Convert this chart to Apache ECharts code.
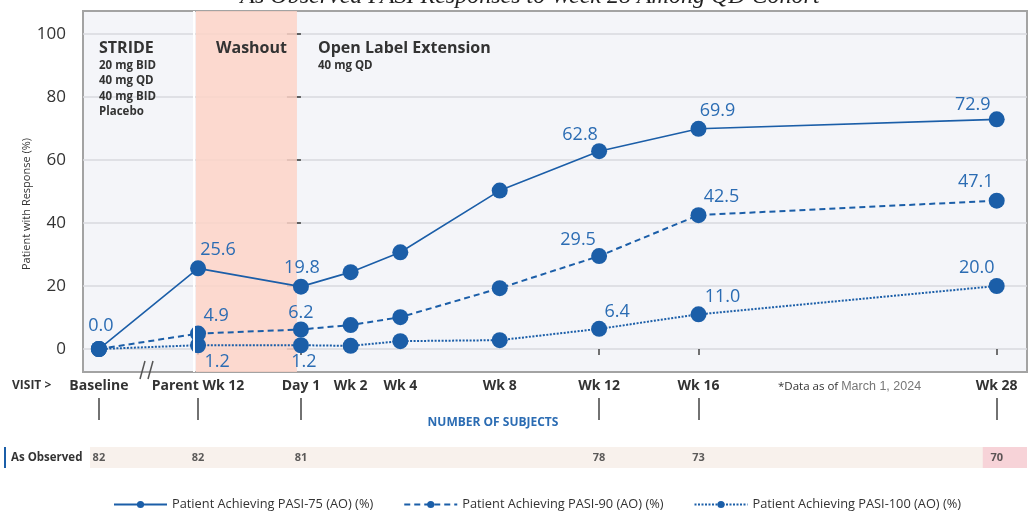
<!DOCTYPE html>
<html><head><meta charset="utf-8">
<script src="https://cdn.jsdelivr.net/npm/echarts@6/dist/echarts.min.js"></script>
<style>html,body{margin:0;padding:0;background:#fff}#c{width:1029px;height:512px}</style>
</head><body><div id="c"></div>
<script>
// ---- data ----
const visits = ['Baseline', 'Parent Wk 12', 'Day 1', 'Wk 2', 'Wk 4', 'Wk 8', 'Wk 12', 'Wk 16', 'Wk 28'];
const visitWeeks = [-8.13, -4.14, 0, 2, 4, 8, 12, 16, 28];
const pasi75 = [0.0, 25.6, 19.8, 24.4, 30.7, 50.3, 62.8, 69.9, 72.9];
const pasi90 = [0.0, 4.9, 6.2, 7.6, 10.1, 19.3, 29.5, 42.5, 47.1];
const pasi100 = [0.0, 1.2, 1.2, 1.0, 2.5, 2.8, 6.4, 11.0, 20.0];
const subjects = [82, 82, 81, null, null, null, 78, 73, 70];
const yTicks = [0, 20, 40, 60, 80, 100];
const seriesNames = ['Patient Achieving PASI-75 (AO) (%)', 'Patient Achieving PASI-90 (AO) (%)', 'Patient Achieving PASI-100 (AO) (%)'];

// ---- style config (label placement) ----
const off75 = {0: [2, -23], 1: [20, -18], 2: [1, -19], 6: [-19, -16], 7: [19, -18], 8: [-24, -14]};
const off90 = {1: [18, -18], 2: [0, -17], 6: [-21, -16], 7: [23, -18], 8: [-21, -19]};
const off100 = {1: [19, 17], 2: [3, 17], 6: [18, -17], 7: [24, -17], 8: [-20, -18]};

const BLUE = '#1b5ea8';
const LBLUE = '#2b6cb3';
const XMIN = -8.77, XMAX = 29.22;

function mk(arr, off) {
  return visitWeeks.map((w, i) => ({
    value: [w, arr[i]],
    label: off[i] ? {show: true, position: 'inside', offset: off[i]} : {show: false}
  }));
}
const subjWeeks = visitWeeks.filter((w, i) => subjects[i] != null);
function visitName(v) {
  let best = 0;
  visitWeeks.forEach((w, i) => { if (Math.abs(w - v) < Math.abs(visitWeeks[best] - v)) best = i; });
  return visits[best];
}
const lbl = {
  fontSize: 18, color: LBLUE, fontFamily: 'Open Sans',
  formatter: p => p.value[1].toFixed(1)
};

const chart = echarts.init(document.getElementById('c'), null, {renderer: 'canvas'});
chart.setOption({
  animation: false,
  textStyle: {fontFamily: 'Open Sans'},
  grid: [
    {left: 83, right: 2, top: 11, bottom: 140, show: true, backgroundColor: '#f4f5f9', borderColor: '#a3a3a3', borderWidth: 2},
    {left: 83, right: 2, top: 398, bottom: 92},
    {left: 83, right: 2, top: 447, bottom: 44}
  ],
  xAxis: [
    {gridIndex: 0, type: 'value', min: XMIN, max: XMAX,
     axisLine: {show: false}, splitLine: {show: false},
     axisTick: {show: true, customValues: subjWeeks, length: 6, lineStyle: {color: '#444', width: 1.5}},
     axisLabel: {customValues: visitWeeks, formatter: v => visitName(v), fontSize: 14, fontWeight: 'bold', color: '#333', margin: 7}},
    {gridIndex: 1, type: 'value', min: XMIN, max: XMAX,
     axisLine: {show: false}, splitLine: {show: false}, axisLabel: {show: false},
     axisTick: {show: true, inside: true, customValues: subjWeeks, length: 22, lineStyle: {color: '#444', width: 1.5}}},
    {gridIndex: 2, type: 'value', min: XMIN, max: XMAX, show: false}
  ],
  yAxis: [
    {gridIndex: 0, type: 'value', min: -7.3, max: 107.3,
     axisLine: {show: false},
     axisTick: {show: true, customValues: yTicks, length: 14, lineStyle: {color: '#333', width: 1.5}},
     axisLabel: {customValues: yTicks, margin: 17, fontSize: 17, color: '#333'},
     splitLine: {show: true, lineStyle: {color: '#d9d9de', width: 1.5}}},
    {gridIndex: 1, type: 'value', min: 0, max: 1, show: false},
    {gridIndex: 2, type: 'value', min: 0, max: 1, show: false}
  ],
  legend: {
    left: 108, top: 493, itemWidth: 53, itemHeight: 9, itemGap: 30,
    textStyle: {fontSize: 12.8, color: '#333'},
    data: seriesNames
  },
  series: [
    {name: seriesNames[2], type: 'line', xAxisIndex: 0, yAxisIndex: 0, data: mk(pasi100, off100),
     symbol: 'circle', symbolSize: 16, itemStyle: {color: BLUE},
     lineStyle: {color: BLUE, width: 2, type: [2, 1.5]}, label: lbl, z: 3},
    {name: seriesNames[1], type: 'line', xAxisIndex: 0, yAxisIndex: 0, data: mk(pasi90, off90),
     symbol: 'circle', symbolSize: 16, itemStyle: {color: BLUE},
     lineStyle: {color: BLUE, width: 2, type: [6, 4]}, label: lbl, z: 4},
    {name: seriesNames[0], type: 'line', xAxisIndex: 0, yAxisIndex: 0, data: mk(pasi75, off75),
     symbol: 'circle', symbolSize: 16, itemStyle: {color: BLUE},
     lineStyle: {color: BLUE, width: 1.6}, label: lbl, z: 5,
     markArea: {silent: true, label: {show: false},
       itemStyle: {color: 'rgba(253,212,200,0.85)'},
       data: [[{xAxis: -4.23}, {xAxis: -0.16}]]},
     markLine: {silent: true, symbol: 'none', label: {show: false},
       lineStyle: {color: '#ffffff', width: 2, type: 'solid'},
       data: [{xAxis: -4.3}]}},
    {type: 'scatter', xAxisIndex: 2, yAxisIndex: 2, z: 5,
     data: visitWeeks.map((w, i) => subjects[i] == null ? null : [w, 0.5, subjects[i]]).filter(d => d),
     symbolSize: 2, itemStyle: {color: 'rgba(0,0,0,0)'},
     label: {show: true, position: 'inside', formatter: p => String(p.value[2]), fontSize: 11, fontWeight: 'bold', color: '#333'},
     markArea: {silent: true, label: {show: false},
       data: [
         [{xAxis: -8.49, itemStyle: {color: '#f8f1ec'}}, {xAxis: XMAX}],
         [{xAxis: 27.44, itemStyle: {color: '#f7d3d8'}}, {xAxis: XMAX}]
       ]}}
  ],
  graphic: [
    {type: 'text', z: 100, x: 530, y: 9, style: {text: 'As Observed PASI Responses to Week 28 Among QD Cohort', font: 'italic 24px "Liberation Serif"', fill: '#222', align: 'center', verticalAlign: 'bottom'}},
    {type: 'text', z: 100, x: 99, y: 48, style: {text: 'STRIDE', font: 'bold 16px "Open Sans"', fill: '#333', verticalAlign: 'middle'}},
    {type: 'text', z: 100, x: 99, y: 66, style: {text: '20 mg BID', font: 'bold 11.5px "Open Sans"', fill: '#333', verticalAlign: 'middle'}},
    {type: 'text', z: 100, x: 99, y: 81, style: {text: '40 mg QD', font: 'bold 11.5px "Open Sans"', fill: '#333', verticalAlign: 'middle'}},
    {type: 'text', z: 100, x: 99, y: 97, style: {text: '40 mg BID', font: 'bold 11.5px "Open Sans"', fill: '#333', verticalAlign: 'middle'}},
    {type: 'text', z: 100, x: 99, y: 112, style: {text: 'Placebo', font: 'bold 11.5px "Open Sans"', fill: '#333', verticalAlign: 'middle'}},
    {type: 'text', z: 100, x: 216, y: 48, style: {text: 'Washout', font: 'bold 16px "Open Sans"', fill: '#333', verticalAlign: 'middle'}},
    {type: 'text', z: 100, x: 318, y: 48, style: {text: 'Open Label Extension', font: 'bold 16px "Open Sans"', fill: '#333', verticalAlign: 'middle'}},
    {type: 'text', z: 100, x: 318, y: 66, style: {text: '40 mg QD', font: 'bold 11.5px "Open Sans"', fill: '#333', verticalAlign: 'middle'}},
    {type: 'text', z: 100, x: 27, y: 204, rotation: Math.PI / 2, style: {text: 'Patient with Response (%)', font: '11px "Open Sans"', fill: '#333', align: 'center', verticalAlign: 'middle'}},
    {type: 'text', z: 100, x: 12, y: 386, style: {text: 'VISIT >', font: 'bold 12px "Open Sans"', fill: '#333', verticalAlign: 'middle'}},
    {type: 'line', z: 100, shape: {x1: 140, y1: 379, x2: 145, y2: 361}, style: {stroke: '#555', lineWidth: 1.5}},
    {type: 'line', z: 100, shape: {x1: 148, y1: 379, x2: 153, y2: 361}, style: {stroke: '#555', lineWidth: 1.5}},
    {type: 'text', z: 100, x: 493, y: 423, style: {text: 'NUMBER OF SUBJECTS', font: 'bold 12px "Open Sans"', fill: LBLUE, align: 'center', verticalAlign: 'middle'}},
    {type: 'text', z: 100, x: 778, y: 387, style: {
      text: '{a|*Data as of }{b|March 1, 2024}', verticalAlign: 'middle',
      rich: {a: {fontSize: 11.5, fontFamily: 'Open Sans', fill: '#333', color: '#333'}, b: {fontSize: 12.5, fontFamily: 'Liberation Sans', fill: '#777', color: '#777'}}}},
    {type: 'rect', z: 100, shape: {x: 4, y: 447, width: 2, height: 21}, style: {fill: BLUE}},
    {type: 'text', z: 100, x: 11, y: 457.5, style: {text: 'As Observed', font: 'bold 11.5px "Open Sans"', fill: '#333', verticalAlign: 'middle'}}
  ]
});
</script>
</body></html>
